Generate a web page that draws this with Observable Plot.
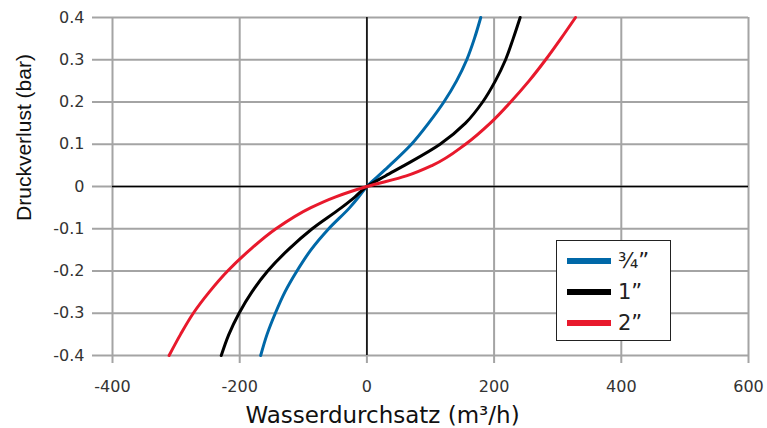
<!DOCTYPE html>
<html>
<head>
<meta charset="utf-8">
<script src="https://cdn.jsdelivr.net/npm/d3@7"></script>
<script src="https://cdn.jsdelivr.net/npm/@observablehq/plot@0.6"></script>
<style>
  html, body { margin: 0; padding: 0; background: #fff; }
  #wrap { position: relative; width: 767px; height: 428px; font-family: "DejaVu Sans", sans-serif; }
  #legend { position: absolute; left: 556px; top: 240px; width: 113px; height: 99px; border: 1.5px solid #222; background: #fff; }
  .item { position: absolute; left: 10px; height: 24px; display: flex; align-items: center; }
  .sw { width: 44px; height: 6px; margin-right: 7px; }
  .lab { font-size: 21px; color: #222; line-height: 24px; }
</style>
</head>
<body>
<div id="wrap"></div>
<script>
// Data (pressure loss in bar vs flow in m³/h)
const pressure = [-0.4, -0.35, -0.3, -0.25, -0.2, -0.15, -0.1, -0.05, -0.025, 0, 0.025, 0.05, 0.1, 0.15, 0.2, 0.25, 0.3, 0.35, 0.4];
const flow34 = [-167, -157, -144, -129, -110, -88, -60, -27, -13, 0, 18, 36, 70, 97, 121, 141, 157, 169, 179];
const flow1  = [-229, -217, -201, -181, -156, -124, -86, -40, -19, 0, 29, 59, 115, 155, 182, 202, 218, 230, 241];
const flow2  = [-311, -293, -273, -248, -219, -184, -143, -88, -50, 0, 62, 103, 155, 194, 226, 255, 281, 305, 328];
const seriesNames = ["¾”", "1”", "2”"];
const seriesColors = ["#0068a8", "#000000", "#e8192c"];
const xTicks = [-400, -200, 0, 200, 400, 600];
const yTicks = [-0.4, -0.3, -0.2, -0.1, 0, 0.1, 0.2, 0.3, 0.4];
const xTitle = "Wasserdurchsatz (m³/h)";
const yTitle = "Druckverlust (bar)";

const flows = [flow34, flow1, flow2];
const rows = [];
flows.forEach((f, s) => pressure.forEach((p, i) => rows.push({series: seriesNames[s], flow: f[i], pressure: p})));

const grid = "#a4a4a4";
const textColor = "#333";

const chart = Plot.plot({
  width: 767,
  height: 428,
  marginLeft: 112,
  marginRight: 19,
  marginTop: 17,
  marginBottom: 73,
  style: {fontFamily: "DejaVu Sans, sans-serif", color: textColor, background: "#fff"},
  x: {domain: [-400, 600]},
  y: {domain: [-0.4, 0.4]},
  color: {domain: seriesNames, range: seriesColors},
  marks: [
    Plot.gridX(xTicks, {stroke: grid, strokeOpacity: 1, strokeWidth: 2}),
    Plot.gridY(yTicks, {stroke: grid, strokeOpacity: 1, strokeWidth: 2}),
    Plot.axisX(xTicks, {tickSize: 8, stroke: grid, strokeWidth: 2, tickPadding: 17, fontSize: 16, fill: textColor, tickFormat: d => String(d), label: null}),
    Plot.axisY(yTicks, {tickSize: 20, stroke: grid, strokeWidth: 2, tickPadding: 8, fontSize: 16, fill: textColor, tickFormat: d => String(d), label: null}),
    Plot.ruleY([0], {stroke: "#000", strokeWidth: 1.5}),
    Plot.ruleX([0], {stroke: "#000", strokeWidth: 1.5}),
    Plot.line(rows, {x: "flow", y: "pressure", z: "series", stroke: "series", strokeWidth: 3, curve: "monotone-y"}),
    Plot.text([xTitle], {frameAnchor: "bottom", textAnchor: "middle", lineAnchor: "middle", dx: -48, dy: 60, fontSize: 23, fill: "#111"}),
    Plot.text([yTitle], {frameAnchor: "left", textAnchor: "middle", lineAnchor: "middle", rotate: -90, dx: -88, dy: -49, fontSize: 21, fontFamily: "Liberation Sans, Arial, sans-serif", fill: "#111"})
  ]
});

const wrap = document.getElementById("wrap");
wrap.appendChild(chart);

const legend = document.createElement("div");
legend.id = "legend";
seriesNames.forEach((n, i) => {
  const it = document.createElement("div");
  it.className = "item";
  it.style.top = (8 + i * 31) + "px";
  const sw = document.createElement("div");
  sw.className = "sw";
  sw.style.background = seriesColors[i];
  const lab = document.createElement("span");
  lab.className = "lab";
  lab.textContent = n;
  it.appendChild(sw);
  it.appendChild(lab);
  legend.appendChild(it);
});
wrap.appendChild(legend);
</script>
</body>
</html>
